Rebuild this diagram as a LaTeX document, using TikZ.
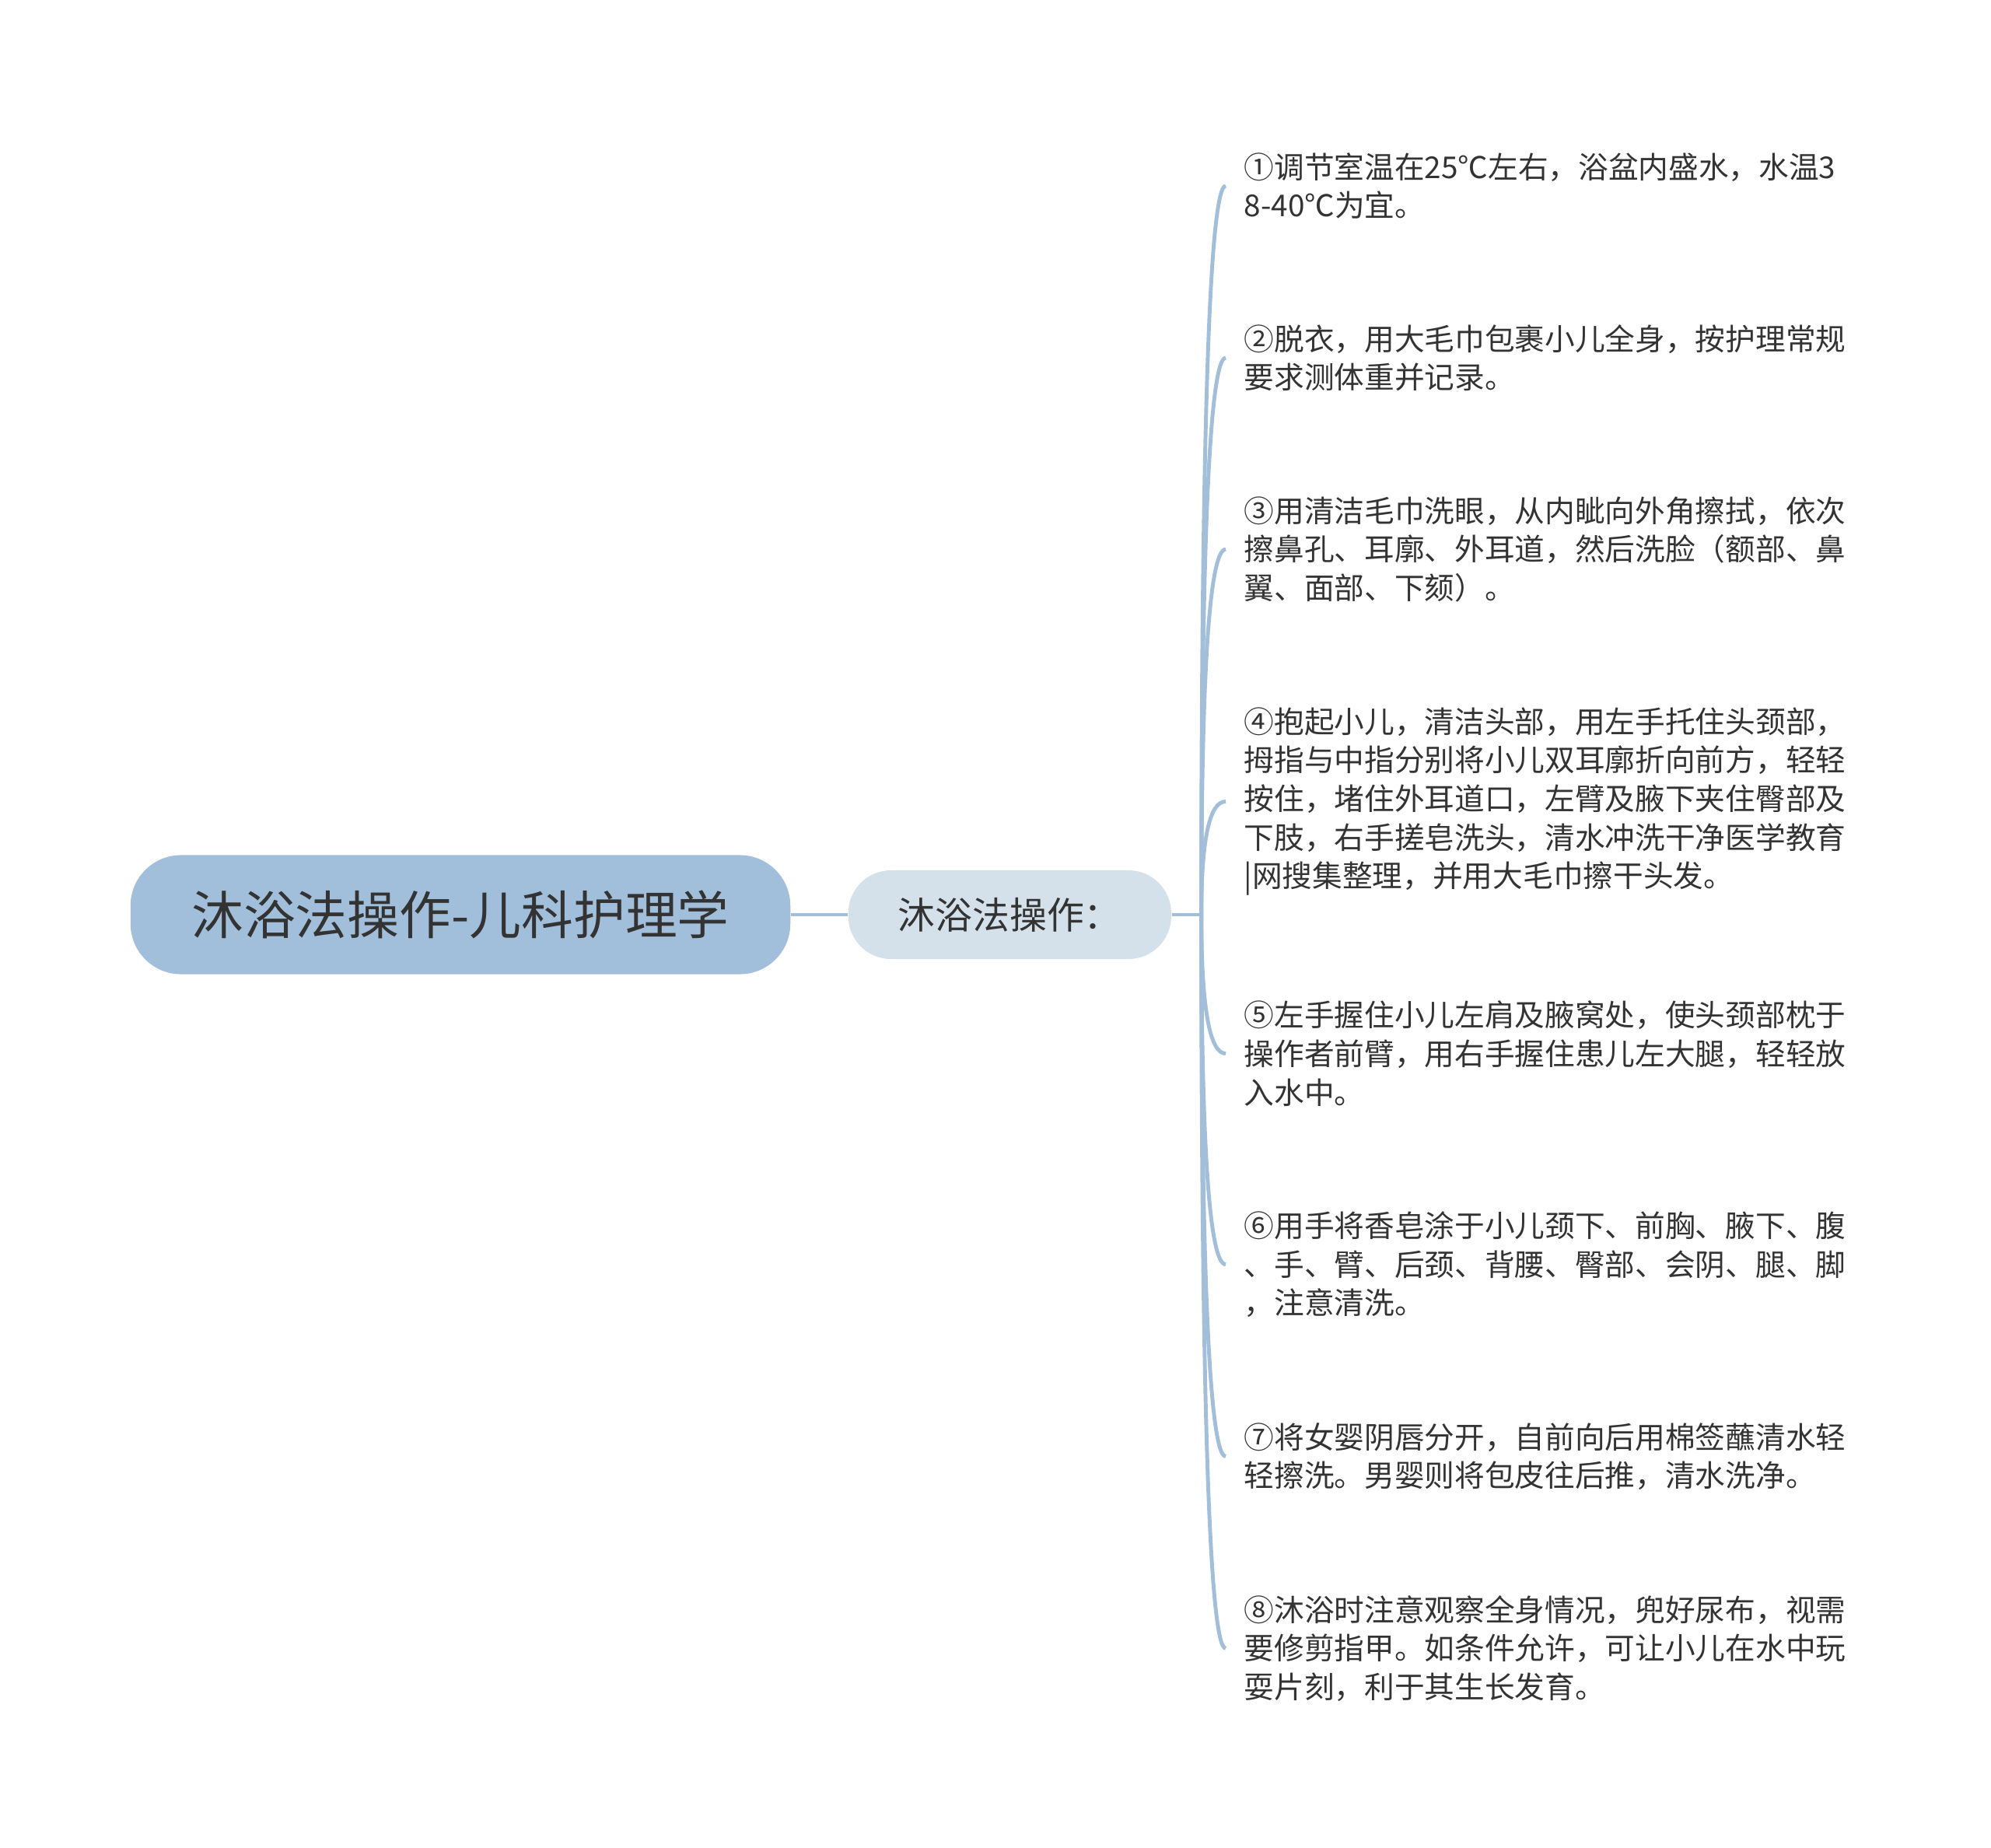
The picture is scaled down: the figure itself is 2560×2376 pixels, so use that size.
\documentclass[tikz,border=0pt]{standalone}
\usepackage{fontspec}
\setmainfont{Noto Sans CJK SC}
\usetikzlibrary{positioning,calc}
\definecolor{rootblue}{HTML}{A1BFDB}
\definecolor{subblue}{HTML}{D4E1EB}
\definecolor{linkblue}{HTML}{A2BED8}
\definecolor{inkgray}{HTML}{333333}
\tikzset{
  link/.style    = {draw=linkblue, line width=1.4pt},
  branch/.style  = {link, to path={.. controls ($(\tikztostart)!2/3!(\tikztostart |- \tikztotarget)$) and ($(\tikztotarget)!2/3!(\tikztostart |- \tikztotarget)$) .. (\tikztotarget)}},
  rootbox/.style = {rectangle, rounded corners=0.65cm, fill=rootblue, text=inkgray, minimum width=8.48cm, minimum height=1.53cm, font=\fontsize{19pt}{23pt}\selectfont},
  subbox/.style  = {rectangle, rounded corners=0.55cm, fill=subblue, text=inkgray, minimum width=4.15cm, minimum height=1.14cm, font=\fontsize{13.6pt}{16pt}\selectfont},
  leaf/.style    = {align=left, text=inkgray, inner xsep=0.23cm, inner ysep=0pt, font=\fontsize{11pt}{14.1pt}\selectfont}
}
\begin{document}
\begin{tikzpicture}[x=0.01cm, y=-0.01cm, node distance=1.34cm]

\fill[white] (0,0) rectangle (2560,2376);
\useasboundingbox (0,0) rectangle (2560,2376);

% Root and first level
\node (root) [rootbox] at (592,1176) {沐浴法操作-儿科护理学};
\node (sub) [subbox, right=0.73cm of root] {沐浴法操作：};
\coordinate (hub) at ([xshift=0.38cm]sub.east);

% Steps
\node (s1) [leaf, anchor=west] at (1576,239) {①调节室温在25℃左右，浴盆内盛水，水温3\\8-40℃为宜。};
\node (s2) [leaf, below=of s1.south west, anchor=north west] {②脱衣，用大毛巾包裹小儿全身，按护理常规\\要求测体重并记录。};
\node (s3) [leaf, below=of s2.south west, anchor=north west] {③用清洁毛巾洗眼，从内眦向外角擦拭，依次\\擦鼻孔、耳廓、外耳道，然后洗脸（额部、鼻\\翼、面部、下颏）。};
\node (s4) [leaf, below=of s3.south west, anchor=north west] {④抱起小儿，清洁头部，用左手托住头颈部，\\拇指与中指分别将小儿双耳廓折向前方，轻轻\\按住，堵住外耳道口，左臂及腋下夹住臀部及\\下肢，右手搓皂洗头，清水冲洗干净医学教育\\|网搜集整理，并用大毛巾擦干头发。};
\node (s5) [leaf, below=of s4.south west, anchor=north west] {⑤左手握住小儿左肩及腋窝处，使头颈部枕于\\操作者前臂，用右手握住患儿左大腿，轻轻放\\入水中。};
\node (s6) [leaf, below=of s5.south west, anchor=north west] {⑥用手将香皂涂于小儿颈下、前胸、腋下、腹\\、手、臂、后颈、背腰、臀部、会阴、腿、脚\\，注意清洗。};
\node (s7) [leaf, below=of s6.south west, anchor=north west] {⑦将女婴阴唇分开，自前向后用棉签蘸清水轻\\轻擦洗。男婴则将包皮往后推，清水洗净。};
\node (s8) [leaf, below=of s7.south west, anchor=north west] {⑧沐浴时注意观察全身情况，兜好尿布，视需\\要修剪指甲。如条件允许，可让小儿在水中玩\\耍片刻，利于其生长发育。};

% Connections
\draw[link] (root) -- (sub);
\draw[link] (sub) -- (hub);
\draw[branch] (hub) to (s1.west);
\draw[branch] (hub) to (s2.west);
\draw[branch] (hub) to (s3.west);
\draw[branch] (hub) to (s4.west);
\draw[branch] (hub) to (s5.west);
\draw[branch] (hub) to (s6.west);
\draw[branch] (hub) to (s7.west);
\draw[branch] (hub) to (s8.west);

\end{tikzpicture}
\end{document}
